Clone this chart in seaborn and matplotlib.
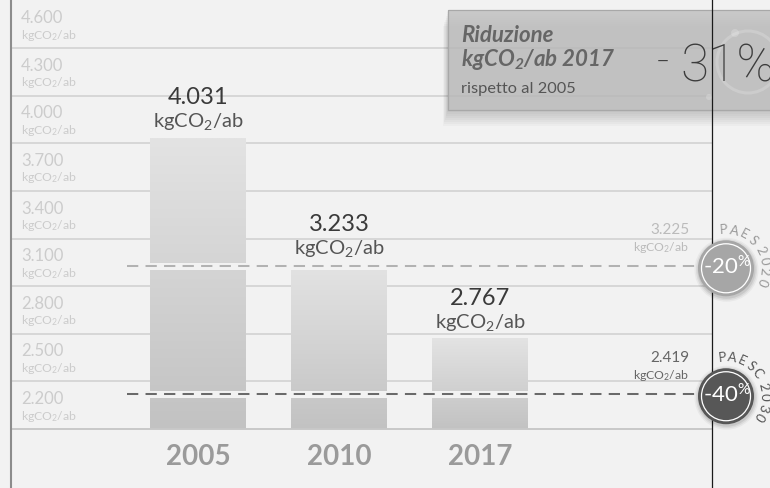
import numpy as np
import pandas as pd
import matplotlib
matplotlib.use("Agg")
import matplotlib.pyplot as plt
import seaborn as sns
from matplotlib.patches import Rectangle, Circle
from matplotlib.colors import LinearSegmentedColormap

# ---------------- data ----------------
years = ["2005", "2010", "2017"]
emissions = [4031, 3233, 2767]
value_labels = ["4.031", "3.233", "2.767"]
grid_values = [2200, 2500, 2800, 3100, 3400, 3700, 4000, 4300, 4600]
grid_labels = ["2.200", "2.500", "2.800", "3.100", "3.400", "3.700", "4.000", "4.300", "4.600"]
target_values = [3225, 2419]
target_labels = ["3.225", "2.419"]
target_pct = ["-20", "-40"]
target_names = ["PAES 2020", "PAESC 2030"]
unit = "kgCO$_2$/ab"
box_title = ["Riduzione", "kgCO$_2$/ab 2017"]
box_sub = "rispetto al 2005"
box_value = "31%"

# ---------------- style ----------------
W, H = 770, 488
BG = "#f2f2f2"
plt.rcParams["font.family"] = ["Lato", "DejaVu Sans"]
plt.rcParams["mathtext.default"] = "regular"

fig = plt.figure(figsize=(W / 100, H / 100), dpi=100, facecolor=BG)
ax = fig.add_axes([0, 59 / H, 1, 429 / H])
ax.set_facecolor(BG)

U = 2400 / 381.0          # data units per pixel
YMIN, YMAX = 2200, 2200 + 429 * U
XMIN, XMAX = -198 / 141, 2 + 290 / 141

df = pd.DataFrame({"anno": years, "kg": emissions})
sns.barplot(data=df, x="anno", y="kg", ax=ax, width=0.68, color="#d0d0d0",
            saturation=1, errorbar=None)

# gradient bars
cmap = LinearSegmentedColormap.from_list("g", ["#c2c2c2", "#e3e3e3"])
grad = np.linspace(0, 1, 256).reshape(-1, 1)
for p in ax.patches:
    x0, w, h = p.get_x(), p.get_width(), p.get_height()
    p.set_visible(False)
    ax.imshow(grad, cmap=cmap, origin="lower", aspect="auto",
              extent=[x0, x0 + w, YMIN, h], zorder=1, interpolation="bilinear")

ax.set_xlim(XMIN, XMAX)
ax.set_ylim(YMIN, YMAX)
ax.set_aspect("auto")
for s in ax.spines.values():
    s.set_visible(False)
ax.set_yticks([])
ax.set_xlabel("")
ax.set_ylabel("")
ax.tick_params(axis="x", length=0, pad=11, labelsize=20, labelcolor="#9a9a9a")
for t in ax.get_xticklabels():
    t.set_fontweight("bold")

ytr = ax.get_yaxis_transform()
# grid lines
ax.hlines(grid_values[1:], 11 / W, 712 / W, transform=ytr, colors="#cfcfcf",
          lw=1.1, zorder=0.5)
ax.hlines([grid_values[0]], 11 / W, 712 / W, transform=ytr, colors="#c8c8c8",
          lw=1.4, zorder=2, clip_on=False)

# y labels
for v, lab in zip(grid_values, grid_labels):
    ax.text(21 / W, v + 25 * U, lab, transform=ytr, ha="left", va="baseline",
            fontsize=12, color="#cccccc", zorder=4)
    ax.text(21 / W, v + 9.5 * U, unit, transform=ytr, ha="left", va="baseline",
            fontsize=8.8, color="#cccccc", zorder=4)

# bar value labels
for i, (v, lab) in enumerate(zip(emissions, value_labels)):
    ax.text(i, v + 34 * U, lab, ha="center", va="baseline", fontsize=17,
            color="#3a3a3a", zorder=4)
    ax.text(i, v + 11 * U, unit, ha="center", va="baseline", fontsize=14.5,
            color="#555555", zorder=4)

# target dashed lines
dash_cols = ["#b2b2b2", "#6a6a6a"]
lab_cols = ["#bbbbbb", "#666666"]
for v, lab, dc, lc in zip(target_values, target_labels, dash_cols, lab_cols):
    ax.axhspan(v - 3.5 * U, v + 3.5 * U, xmin=127 / W, xmax=705 / W, color=BG,
               zorder=1.6, lw=0)
    ax.hlines([v], 127 / W, 705 / W, transform=ytr, colors=dc, lw=1.45,
              linestyles=(0, (5.6, 3.6)), zorder=3)
    ax.text(689 / W, v + 32 * U, lab, transform=ytr, ha="right", va="baseline",
            fontsize=11, color=lc, zorder=4)
    ax.text(689 / W, v + 15 * U, unit, transform=ytr, ha="right", va="baseline",
            fontsize=8.8, color=lc, zorder=4)

# ---------------- overlay in pixel coordinates ----------------
ov = fig.add_axes([0, 0, 1, 1], zorder=5)
ov.set_xlim(0, W)
ov.set_ylim(H, 0)
ov.axis("off")
ov.patch.set_alpha(0)

def py(v):
    return H - ax.transData.transform((0, v))[1]

# frame lines
ov.plot([11, 11], [0, H], color="#8c8c8c", lw=1.5, zorder=1)

# box with shadow
for k in range(1, 9):
    ov.add_patch(Rectangle((448 - k * 0.6, 10 + k * 2), 400, 100, color="black",
                           alpha=0.025, lw=0, zorder=2))
ov.add_patch(Rectangle((448, 10), 400, 100, facecolor="#c0c0c0", alpha=0.8,
                       edgecolor="none", zorder=3))
ov.add_patch(Rectangle((448, 10), 400, 100, facecolor="none",
                       edgecolor="#a8a8a8", lw=0.9, zorder=3.1))
# faint cloud icon
ov.add_patch(Circle((748, 62), 31, facecolor="none", edgecolor="white",
                    alpha=0.18, lw=2.2, zorder=3.2))
ov.add_patch(Circle((735, 33), 4, color="white", alpha=0.2, lw=0, zorder=3.2))
ov.add_patch(Circle((709, 97), 3, color="white", alpha=0.2, lw=0, zorder=3.2))

ov.text(461, 42, box_title[0], fontsize=16, fontweight="bold", style="italic",
        color="#666666", ha="left", va="baseline", zorder=4)
ov.text(461, 66, box_title[1], fontsize=16, fontweight="bold", style="italic",
        color="#666666", ha="left", va="baseline", zorder=4)
ov.text(461, 93, box_sub, fontsize=11.8, color="#555555", ha="left",
        va="baseline", zorder=4)
light = dict(family=["Roboto", "Lato", "DejaVu Sans"], fontweight="light")
ov.text(657, 76, "-", fontsize=30, color="#3c3c3c",
        ha="left", va="baseline", zorder=4, **light)
ov.text(680, 82, box_value, fontsize=37, color="#3c3c3c",
        ha="left", va="baseline", zorder=4, **light)

ov.plot([712, 712], [0, H], color="#1a1a1a", lw=0.9, zorder=6)

# target circles
circle_cols = ["#a6a6a6", "#575757"]
name_cols = ["#999999", "#555555"]
angle_sets = [[94, 78, 62, 46, None, 27, 11, -5, -21],
              [96, 81, 65, 50, 36, None, 14, -1, -17, -32]]
for v, pct, name, cc, nc, angs in zip(target_values, target_pct, target_names,
                                      circle_cols, name_cols, angle_sets):
    cx, cy = 726, py(v) + 2
    for r, a in [(32, 0.04), (30.5, 0.06), (29, 0.08)]:
        ov.add_patch(Circle((cx + 0.5, cy + 1.5), r, color="black", alpha=a,
                            lw=0, zorder=7))
    ov.add_patch(Circle((cx, cy), 28, color=cc, lw=0, zorder=7.5))
    ov.add_patch(Circle((cx, cy), 24.5, facecolor="none", edgecolor="white",
                        lw=0.9, zorder=7.6))
    ov.text(cx + 1, cy + 6, pct + "$^{\\%}$", fontsize=16, fontweight="normal",
            color="white", ha="center", va="baseline", zorder=8)
    for ch, ang in zip(name, angs):
        if ang is None or ch == " ":
            continue
        t = np.deg2rad(ang)
        ov.text(cx + 38.5 * np.cos(t), cy - 38.5 * np.sin(t), ch, fontsize=9.5,
                color=nc, rotation=ang - 90, ha="center", va="center",
                rotation_mode="anchor", zorder=8)

fig.savefig("out.png", dpi=100, facecolor=BG)
